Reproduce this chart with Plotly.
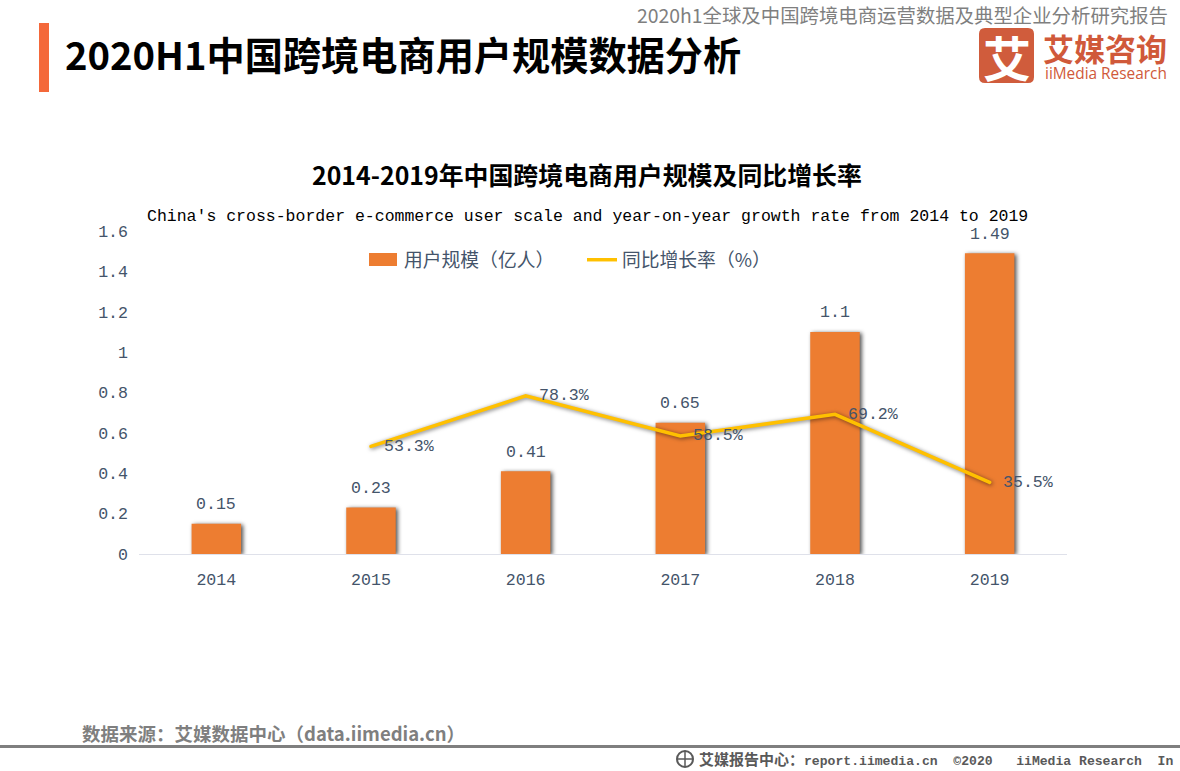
import plotly.graph_objects as go

years = ["2014", "2015", "2016", "2017", "2018", "2019"]
users = [0.15, 0.23, 0.41, 0.65, 1.1, 1.49]
growth_years = ["2015", "2016", "2017", "2018", "2019"]
growth = [53.3, 78.3, 58.5, 69.2, 35.5]
y_ticks = [0, 0.2, 0.4, 0.6, 0.8, 1, 1.2, 1.4, 1.6]

W, H = 1180, 771
CJK = "Noto Sans CJK SC"
MONO = f"Liberation Mono, {CJK}"
TXT = "#44546A"
NB = "\u00a0"


def px(x):
    return x / W


def py(y):
    return 1 - y / H


fig = go.Figure()
fig.add_trace(go.Bar(x=years, y=users, name="用户规模（亿人）", marker_color="#ED7D31",
                     marker_line_width=0, width=0.32))
fig.add_trace(go.Scatter(x=growth_years, y=growth, name="同比增长率（%）", yaxis="y2", mode="lines",
                         line=dict(color="#FFC000", width=3.5), cliponaxis=False))

annotations = []
for yr, v in zip(years, users):
    annotations.append(dict(x=years.index(yr), y=v, xref="x", yref="y", text=f"{v:g}", showarrow=False, yshift=19,
                            font=dict(family=MONO, size=16.6, color=TXT)))
for yr, v in zip(growth_years, growth):
    annotations.append(dict(x=years.index(yr), y=v, xref="x", yref="y2", text=f"{v}%", showarrow=False,
                            xanchor="left", xshift=11, font=dict(family=MONO, size=16.6, color=TXT)))


def label(x, y, text, size, color, anchor="left", family=CJK):
    annotations.append(dict(x=px(x), y=py(y), xref="paper", yref="paper", text=text, showarrow=False,
                            xanchor=anchor, yanchor="middle", borderpad=0, borderwidth=0,
                            font=dict(family=family, size=size, color=color)))


label(1168, 14, "2020h1全球及中国跨境电商运营数据及典型企业分析研究报告", 19.4, "#7F7F7F", "right")
label(65, 54, "<b>2020H1中国跨境电商用户规模数据分析</b>", 38.2, "#000000")
label(587, 174, "<b>2014-2019年中国跨境电商用户规模及同比增长率</b>", 24.9, "#000000", "center")
label(587, 216, "China's cross-border e-commerce user scale and year-on-year growth rate from 2014 to 2019",
      16.5, "#000000", "center", MONO)
label(1006.5, 56, "<b>艾</b>", 48, "#FFFFFF", "center")
label(1105, 47, "<b>艾媒咨询</b>", 31, "#D0593A", "center")
label(1106, 73, "iiMedia Research", 15.4, "#D0593A", "center", "Open Sans")
label(82, 733, "<b>数据来源：艾媒数据中心（data.iimedia.cn）</b>", 18.5, "#7F7F7F")
label(699, 760,
      f"<b><span style='font-size:15px'>艾媒报告中心：</span>report.iimedia.cn{NB*2}©2020{NB*3}iiMedia Research{NB*2}In</b>",
      13.1, "#595959", "left", MONO)


def rect(x0, y0, x1, y1, color, layer="below"):
    return dict(type="rect", xref="paper", yref="paper", x0=px(x0), x1=px(x1), y0=py(y0), y1=py(y1),
                fillcolor=color, line_width=0, layer=layer)


r = 6
x0, y0, x1, y1 = px(979), py(28), px(1034), py(83)
rx, ry = r / W, r / H
logo_path = (f"M{x0+rx},{y0} L{x1-rx},{y0} Q{x1},{y0} {x1},{y0-ry} L{x1},{y1+ry} Q{x1},{y1} {x1-rx},{y1} "
             f"L{x0+rx},{y1} Q{x0},{y1} {x0},{y1+ry} L{x0},{y0-ry} Q{x0},{y0} {x0+rx},{y0} Z")
shapes = [
    rect(39, 23, 49, 92, "#F4683A"),
    rect(0, 745, W, 748, "#7F7F7F"),
    rect(369, 253, 397, 266, "#ED7D31", "above"),
    dict(type="path", xref="paper", yref="paper", path=logo_path, fillcolor="#D05C3C", line_width=0, layer="below"),
    dict(type="circle", xref="paper", yref="paper", x0=px(677), x1=px(693), y0=py(751), y1=py(767),
         line=dict(color="#595959", width=2)),
    dict(type="line", xref="paper", yref="paper", x0=px(685), x1=px(685), y0=py(751), y1=py(767),
         line=dict(color="#595959", width=1.5)),
    dict(type="line", xref="paper", yref="paper", x0=px(677), x1=px(693), y0=py(759), y1=py(759),
         line=dict(color="#595959", width=1.5)),
]

fig.update_layout(
    width=W, height=H, margin=dict(l=0, r=0, t=0, b=0, autoexpand=False), autosize=False,
    paper_bgcolor="#FFFFFF", plot_bgcolor="#FFFFFF", barmode="overlay",
    showlegend=True,
    legend=dict(orientation="h", x=px(364), y=py(260), xanchor="left", yanchor="middle",
                font=dict(family=CJK, size=18.8, color=TXT), itemwidth=30, entrywidth=173, entrywidthmode="pixels",
                bgcolor="rgba(0,0,0,0)"),
    xaxis=dict(domain=[px(139), px(1067)], type="category", categoryorder="array", categoryarray=years,
               range=[-0.5, 5.5], showgrid=False, showline=True, linecolor="#DFE1EA", linewidth=1,
               ticks="", ticklen=0, ticklabelstandoff=10, anchor="y",
               tickfont=dict(family=MONO, size=16.6, color=TXT)),
    yaxis=dict(domain=[py(554), py(231)], range=[0, 1.6], tickvals=y_ticks, ticktext=[f"{t:g}" for t in y_ticks],
               showgrid=False, zeroline=False, showline=False, ticks="", ticklen=0, ticklabelstandoff=10,
               tickfont=dict(family=MONO, size=16.6, color=TXT)),
    yaxis2=dict(domain=[py(554), py(231)], range=[0, 160], overlaying="y", side="right", visible=False),
    annotations=annotations, shapes=shapes,
)

post = """
document.body.style.margin='0';
document.documentElement.style.overflow='hidden';
var gd=document.querySelectorAll('.plotly-graph-div')[0];
function sh(){
 gd.querySelectorAll('.barlayer .point path').forEach(function(p){p.style.filter='drop-shadow(2px 1px 2px rgba(0,0,0,.7))';});
 gd.querySelectorAll('.scatterlayer .js-line').forEach(function(p){p.style.filter='drop-shadow(1px 1px 2px rgba(0,0,0,.55))';p.style.strokeLinecap='round';});
}
sh();
"""
fig.write_html("out.html", post_script=post, config=dict(displayModeBar=False))
